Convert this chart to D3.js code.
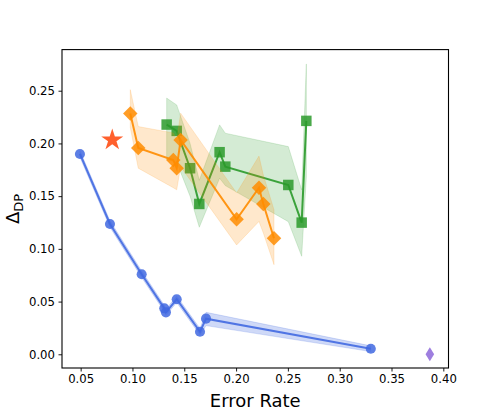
<!DOCTYPE html>
<html><head><meta charset="utf-8">
<script src="https://cdn.jsdelivr.net/npm/d3@7"></script>
<style>
body{margin:0;background:#fff;}
text{font-family:"DejaVu Sans",sans-serif;}
</style></head>
<body><svg id="c" width="498" height="415"></svg>
<script>
// ---- data ----
const blueX = [0.0493, 0.0783, 0.1089, 0.1307, 0.1323, 0.1427, 0.1652, 0.1710, 0.3300];
const blueY = [0.1900, 0.1236, 0.0759, 0.0436, 0.0398, 0.0522, 0.0214, 0.0338, 0.0053];
const blueLo = [0.1870, 0.1206, 0.0729, 0.0406, 0.0368, 0.0492, 0.0184, 0.0272, 0.0026];
const blueHi = [0.1930, 0.1266, 0.0789, 0.0466, 0.0428, 0.0552, 0.0244, 0.0398, 0.0080];

const orangeX = [0.0979, 0.1056, 0.1394, 0.1427, 0.1465, 0.2005, 0.2221, 0.2263, 0.2366];
const orangeY = [0.2283, 0.1957, 0.1843, 0.1765, 0.2033, 0.1280, 0.1580, 0.1426, 0.1100];
const orangeLo = [0.2150, 0.1765, 0.1580, 0.1560, 0.1780, 0.1037, 0.1260, 0.1150, 0.0850];
const orangeHi = [0.2510, 0.2160, 0.2100, 0.2030, 0.2287, 0.1530, 0.1880, 0.1700, 0.1370];

const greenX = [0.1330, 0.1427, 0.1556, 0.1645, 0.1841, 0.1896, 0.2504, 0.2633, 0.2678];
const greenY = [0.2179, 0.2119, 0.1765, 0.1426, 0.1917, 0.1780, 0.1606, 0.1249, 0.2214];
const greenLo = [0.1850, 0.1820, 0.1500, 0.1205, 0.1670, 0.1600, 0.1258, 0.0930, 0.1680];
const greenHi = [0.2430, 0.2365, 0.2000, 0.1650, 0.2176, 0.2097, 0.1970, 0.1560, 0.2754];

const starPt = [0.0805, 0.2033];
const purplePt = [0.3870, 0.0000];

const xTicks = [0.05, 0.10, 0.15, 0.20, 0.25, 0.30, 0.35, 0.40];
const yTicks = [0.00, 0.05, 0.10, 0.15, 0.20, 0.25];
const xLabel = "Error Rate";

// ---- drawing ----
const svg = d3.select("#c");
const L = 62, R = 448.5, T = 49.6, B = 368;
const x = d3.scaleLinear().domain([0.032, 0.405]).range([L, R]);
const y = d3.scaleLinear().domain([-0.013, 0.289]).range([B, T]);

const zip = (xs, ys, lo, hi) => xs.map((v, i) => ({x: v, y: ys[i], lo: lo[i], hi: hi[i]}));
const series = [
  {d: zip(blueX, blueY, blueLo, blueHi), c: "#4169e1", band: 0.25, marker: "circle"},
  {d: zip(greenX, greenY, greenLo, greenHi), c: "#2a9a2a", band: 0.2, marker: "square"},
  {d: zip(orangeX, orangeY, orangeLo, orangeHi), c: "#ff8c00", band: 0.2, marker: "diamond"}
];

const area = d3.area().x(d => x(d.x)).y0(d => y(d.lo)).y1(d => y(d.hi));
const line = d3.line().x(d => x(d.x)).y(d => y(d.y));
const g = svg.append("g");

series.forEach(s => {
  g.append("path").attr("d", area(s.d)).attr("fill", s.c).attr("fill-opacity", s.band)
    .attr("stroke", s.c).attr("stroke-opacity", s.band).attr("stroke-width", 0.8);
  g.append("path").attr("d", line(s.d)).attr("fill", "none").attr("stroke", s.c)
    .attr("stroke-width", 2).attr("stroke-opacity", 0.9);
  let size;
  if (s.marker === "circle") size = 80;
  else if (s.marker === "square") size = 110;
  else size = 105;
  g.selectAll(null).data(s.d).enter().append("path")
    .attr("transform", d => `translate(${x(d.x)},${y(d.y)})` + (s.marker === "diamond" ? " rotate(45)" : ""))
    .attr("d", d3.symbol().type(s.marker === "circle" ? d3.symbolCircle : d3.symbolSquare).size(size))
    .attr("fill", s.c).attr("fill-opacity", 0.85);
});

// star
g.append("path").attr("transform", `translate(${x(starPt[0])},${y(starPt[1])})`)
  .attr("d", d3.symbol().type(d3.symbolStar).size(150)).attr("fill", "#ff5722").attr("fill-opacity", 0.95);
// thin diamond
const tx = x(purplePt[0]), ty = y(purplePt[1]);
g.append("path").attr("d", `M${tx},${ty-7}L${tx+4.3},${ty}L${tx},${ty+7}L${tx-4.3},${ty}Z`)
  .attr("fill", "#9370db").attr("fill-opacity", 0.9);

// axes
const ax = svg.append("g").attr("transform", `translate(0,${B})`)
  .call(d3.axisBottom(x).tickValues(xTicks).tickFormat(d3.format(".2f")).tickSize(3.5).tickPadding(3.5).tickSizeOuter(0));
const ay = svg.append("g").attr("transform", `translate(${L},0)`)
  .call(d3.axisLeft(y).tickValues(yTicks).tickFormat(d3.format(".2f")).tickSize(3.5).tickPadding(3.5).tickSizeOuter(0));
[ax, ay].forEach(a => {
  a.select(".domain").remove();
  a.selectAll("text").attr("font-size", 11.7).attr("fill", "#000").attr("font-family", "DejaVu Sans");
  a.selectAll("line").attr("stroke", "#000").attr("stroke-width", 0.9);
});
svg.append("rect").attr("x", L).attr("y", T).attr("width", R - L).attr("height", B - T)
  .attr("fill", "none").attr("stroke", "#000").attr("stroke-width", 1.1);

svg.append("text").attr("x", (L + R) / 2).attr("y", 406.5).attr("text-anchor", "middle")
  .attr("font-size", 18).text(xLabel);
const yl = svg.append("text").attr("transform", "translate(19,209) rotate(-90)").attr("text-anchor", "middle");
yl.append("tspan").attr("font-size", 18).text("Δ");
yl.append("tspan").attr("font-size", 13).attr("dy", 4).text("DP");
</script></body></html>
